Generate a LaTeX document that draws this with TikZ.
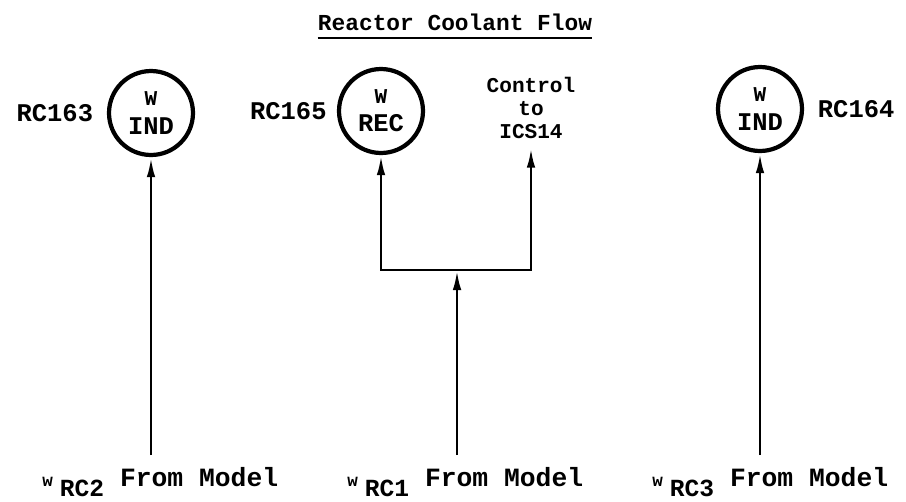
\documentclass[tikz,border=0pt]{standalone}
\usepackage{fontspec}
\newfontfamily\typefont{Liberation Mono}
\usetikzlibrary{positioning, arrows.meta}

\begin{document}
\begin{tikzpicture}[
    x=0.02cm, y=-0.02cm,
    >={Latex[length=4mm, width=1.7mm]},
    font=\typefont\bfseries,
    headline/.style={inner sep=0pt, font=\typefont\bfseries\fontsize{13}{15}\selectfont},
    gauge/.style={circle, draw, line width=2.4pt, minimum size=1.68cm, inner sep=0pt, align=center, font=\typefont\bfseries\fontsize{14.5}{16}\selectfont},
    rclabel/.style={inner sep=0pt, font=\typefont\bfseries\fontsize{14.5}{16}\selectfont},
    ctrl/.style={inner sep=5pt, align=center, font=\typefont\bfseries\fontsize{12}{13}\selectfont},
    feed/.style={inner sep=0pt, font=\typefont\bfseries\fontsize{15}{16}\selectfont},
    flow/.style={->, line width=1.6pt}
]
\useasboundingbox (0,0) rectangle (906,501);

% 1. Title
\node[headline, anchor=base] (head) at (455,30) {Reactor Coolant Flow};
\draw[line width=1.2pt] ([yshift=-4pt]head.south west) -- ([yshift=-4pt]head.south east);

% 2. Indicators and recorder
\node[gauge] (ind2) at (151,113) {{\fontsize{12}{12}\selectfont W}\\IND};
\node[gauge] (rec) at (381,111) {{\fontsize{12}{12}\selectfont W}\\REC};
\node[gauge] (ind3) at (760,109) {{\fontsize{12}{12}\selectfont W}\\IND};

\node[rclabel, left=0.27cm of ind2] (lab2) {RC163};
\node[rclabel, left=0.2cm of rec] (lab1) {RC165};
\node[rclabel, right=0.27cm of ind3] (lab3) {RC164};

\node[ctrl] (ics) at (531,108) {Control\\to\\ICS14};

% 3. Model signals (bottom)
\node[feed, anchor=base west] (src2) at (42,486) {{\fontsize{10}{10}\selectfont w}\hspace{4pt}\raisebox{-6pt}{\fontsize{14}{14}\selectfont RC2} From Model};
\node[feed, anchor=base west] (src1) at (347,486) {{\fontsize{10}{10}\selectfont w}\hspace{4pt}\raisebox{-6pt}{\fontsize{14}{14}\selectfont RC1} From Model};
\node[feed, anchor=base west] (src3) at (652,486) {{\fontsize{10}{10}\selectfont w}\hspace{4pt}\raisebox{-6pt}{\fontsize{14}{14}\selectfont RC3} From Model};

\coordinate (foot2) at (ind2 |- 0,455);
\coordinate (foot1) at (457,455);
\coordinate (foot3) at (ind3 |- 0,455);
\coordinate (split) at (457,270);

% Paths
\draw[flow] (foot2) -- (ind2);
\draw[flow] (foot3) -- (ind3);

\draw[flow] (foot1) -- (split);
\draw[flow] (split) -| (rec.south);
\draw[flow] (split) -| (ics.south);

\end{tikzpicture}
\end{document}
